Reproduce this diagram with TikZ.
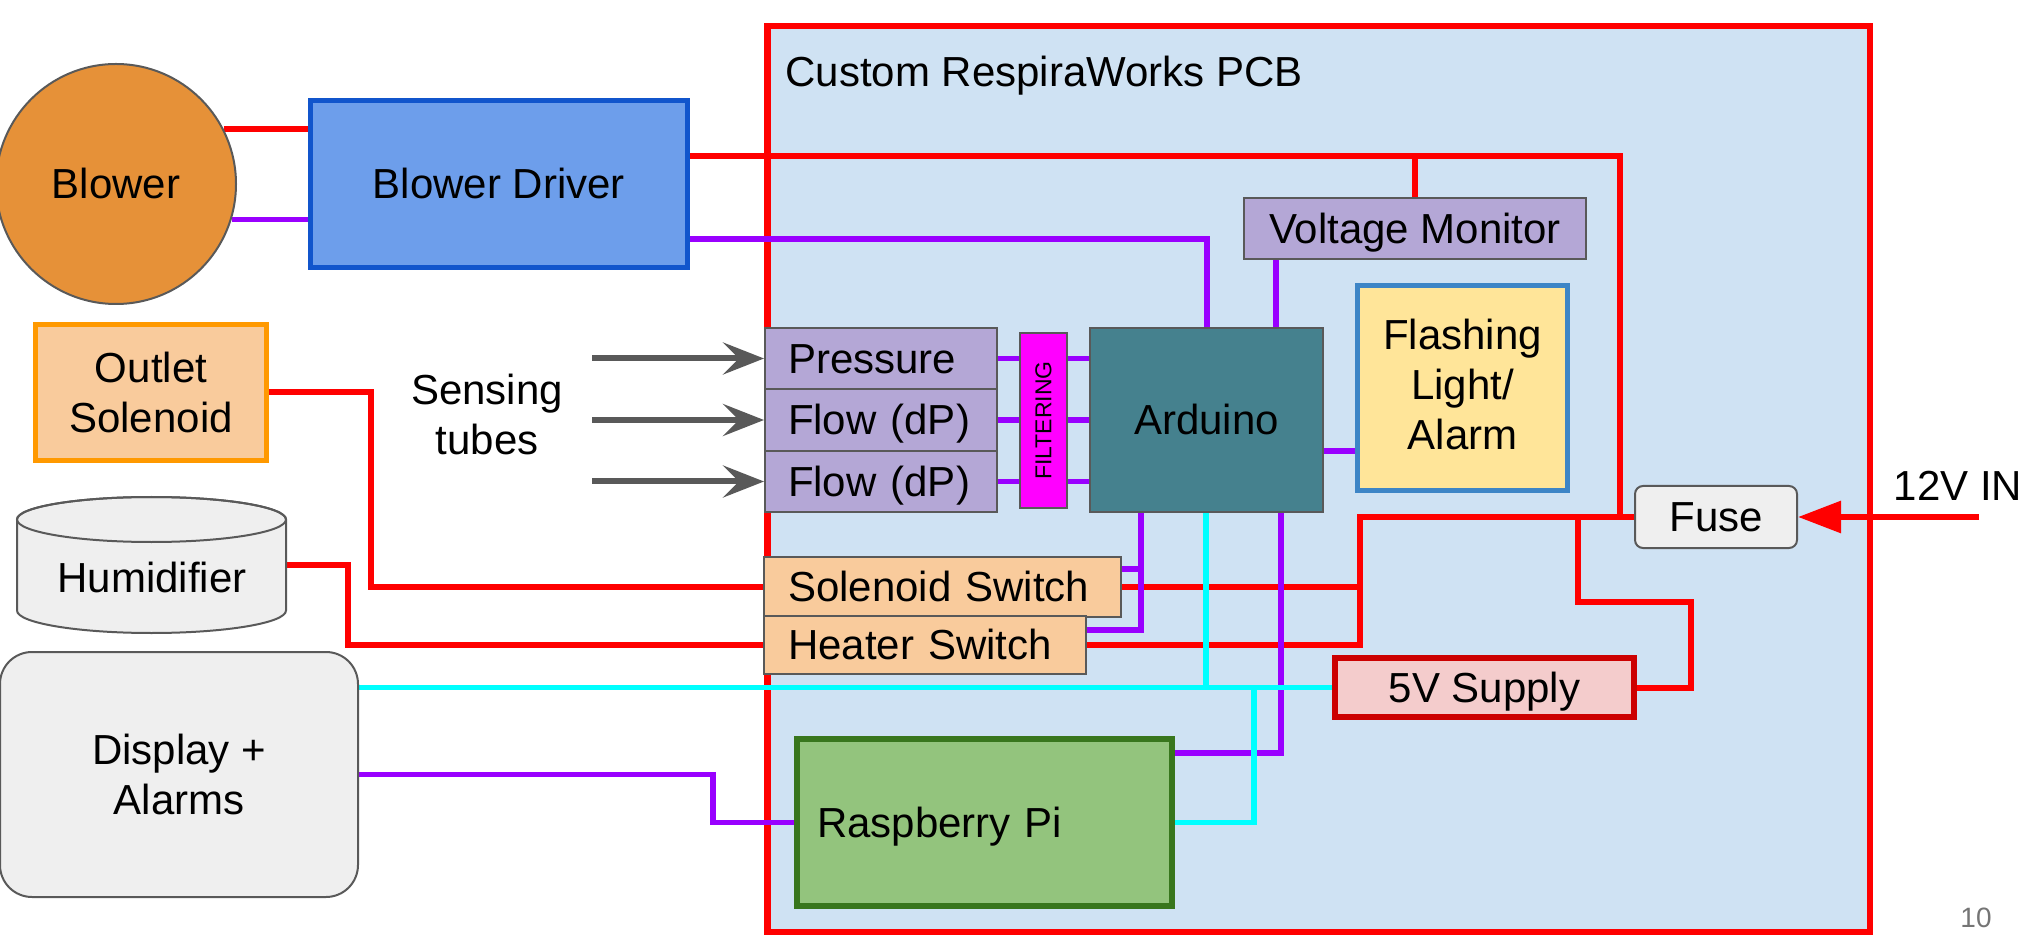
\documentclass[tikz,border=0pt]{standalone}
\usepackage{fontspec}
\setmainfont{Liberation Sans}
\usetikzlibrary{arrows.meta}
\definecolor{pcbf}{HTML}{CFE2F3}
\definecolor{gline}{HTML}{595959}
\definecolor{blowc}{HTML}{E69138}
\definecolor{drvf}{HTML}{6D9EEB}
\definecolor{drvb}{HTML}{1155CC}
\definecolor{outf}{HTML}{F9CB9C}
\definecolor{outb}{HTML}{FF9900}
\definecolor{lgray}{HTML}{EFEFEF}
\definecolor{lav}{HTML}{B4A7D6}
\definecolor{mag}{HTML}{FF00FF}
\definecolor{ardc}{HTML}{45818E}
\definecolor{flf}{HTML}{FFE599}
\definecolor{flb}{HTML}{3D85C6}
\definecolor{supf}{HTML}{F4CCCC}
\definecolor{supb}{HTML}{CC0000}
\definecolor{rpif}{HTML}{93C47D}
\definecolor{rpib}{HTML}{38761D}
\definecolor{purp}{HTML}{9900FF}
\definecolor{cyn}{HTML}{00FFFF}
\definecolor{rd}{HTML}{FF0000}
\definecolor{pgnum}{HTML}{757575}
\pgfdeclarelayer{back}
\pgfdeclarelayer{lines}
\pgfsetlayers{back,lines,main}
\newcommand\fs{\fontsize{21}{25}\selectfont}
\begin{document}
\begin{tikzpicture}[x=0.5pt,y=-0.5pt,
  box/.style={draw=gline, line width=1pt, inner sep=0pt, font=\fs},
  sl/.style={text height=19pt, text depth=4.45pt},
  lbox/.style={box, sl, align=left},
  rw/.style={draw=rd, line width=3pt},
  pw/.style={draw=purp, line width=2.8pt},
  cw/.style={draw=cyn, line width=2.8pt},
  arr/.style={draw=gline, line width=3pt, -{Stealth[length=20.5pt,width=16pt,inset=8pt]}}]
\useasboundingbox (0,0) rectangle (2038,951);

% PCB
\begin{pgfonlayer}{back}
\node[draw=rd, fill=pcbf, line width=3.25pt, minimum width=551.25pt, minimum height=452.75pt, inner sep=0pt] (pcb) at (1318.5,479) {};
\end{pgfonlayer}
\node[font=\fs, sl, anchor=west, inner sep=0pt] (title) at (785,72) {Custom RespiraWorks PCB};

% outside blocks
\node[circle, draw=gline, line width=1pt, fill=blowc, minimum size=120pt, inner sep=0pt, font=\fs, sl] (blower) at (116,184) {Blower};
\node[box, sl, draw=drvb, fill=drvf, line width=2.5pt, minimum width=188.5pt, minimum height=83.5pt] (driver) at (499,184) {Blower Driver};
\node[box, draw=outb, fill=outf, line width=2.5pt, align=center, minimum width=115.5pt, minimum height=68pt] (outlet) at (151,392.5) {Outlet\\Solenoid};

\draw[draw=gline, line width=1pt, fill=lgray] (17,519.5) -- (17,610.5)
  arc[start angle=180, end angle=360, x radius=67.25pt, y radius=11.25pt]
  -- (286,519.5)
  arc[start angle=0, end angle=180, x radius=67.25pt, y radius=11.25pt] -- cycle;
\draw[draw=gline, line width=1pt] (151.5,519.5) ellipse[x radius=67.25pt, y radius=11.25pt];
\node[font=\fs, sl, inner sep=0pt] (hum) at (152,578) {Humidifier};
\coordinate (humR) at (286,565);

\node[box, fill=lgray, rounded corners=16pt, align=center, minimum width=179pt, minimum height=122.5pt] (disp) at (179,774.5) {Display +\\Alarms};
\node[font=\fs, align=center, inner sep=0pt] (sens) at (487,414.5) {Sensing\\tubes};

% PCB blocks
\node[lbox, fill=lav, text width=93pt, inner xsep=11.5pt, minimum height=30.5pt] (pres) at (881,358.5) {Pressure};
\node[lbox, fill=lav, text width=93pt, inner xsep=11.5pt, minimum height=31pt] (flowa) at (881,420) {Flow (dP)};
\node[lbox, fill=lav, text width=93pt, inner xsep=11.5pt, minimum height=30.5pt] (flowb) at (881,481.5) {Flow (dP)};
\node[box, fill=mag, minimum width=23.5pt, minimum height=87.5pt] (filt) at (1043.5,420.5) {};
\node[rotate=90, inner sep=0pt, font=\fontsize{11.5}{13}\selectfont] (filtlbl) at (filt.center) {FILTERING};
\node[box, sl, fill=ardc, minimum width=116.5pt, minimum height=92pt] (ard) at (1206.5,420) {Arduino};
\node[box, sl, fill=lav, minimum width=171pt, minimum height=30.5pt] (vm) at (1415,228.5) {Voltage Monitor};
\node[box, draw=flb, fill=flf, line width=2.5pt, align=center, minimum width=105pt, minimum height=102.5pt] (flash) at (1462.5,388) {Flashing\\Light/\\Alarm\rule[-4pt]{0pt}{4pt}};
\node[box, sl, fill=lgray, rounded corners=4pt, minimum width=81pt, minimum height=31pt] (fuse) at (1716,517) {Fuse};
\node[box, sl, draw=supb, fill=supf, line width=3pt, minimum width=149.5pt, minimum height=29.5pt] (sup) at (1484.5,687.5) {5V Supply};
\node[lbox, fill=outf, text width=154.5pt, inner xsep=12pt, minimum height=30pt] (sol) at (942.5,587) {Solenoid Switch};
\node[lbox, fill=outf, text width=137pt, inner xsep=12pt, minimum height=29pt] (heater) at (925,645) {Heater Switch};
\node[lbox, draw=rpib, fill=rpif, line width=3pt, text width=167.5pt, inner xsep=10pt, minimum height=83.5pt] (rpi) at (984.5,822.5) {Raspberry Pi};
\node[font=\fs, sl, inner sep=0pt] (vinl) at (1958,485.5) {12V IN};
\node[font=\fontsize{14}{16}\selectfont, text=pgnum, inner sep=0pt] (pg) at (1976,918) {10};

% connectors
\begin{pgfonlayer}{lines}
% red
\draw[rw] (blower.27.3) -- (blower.27.3 -| driver.west);
\coordinate (rTopR) at (1620,156);
\draw[rw] (driver.east |- rTopR) -- (rTopR) -- (rTopR |- fuse.west);
\draw[rw] (vm.north |- rTopR) -- (vm.north);
\coordinate (rJ) at (1360,517);
\draw[rw] (fuse.west) -- (fuse.west -| rJ) -- (rJ |- heater.east) -- (heater.east);
\draw[rw] (sol.east) -- (sol.east -| rJ);
\coordinate (r5a) at (1578,602);
\coordinate (r5b) at (1691,602);
\draw[rw] (r5a |- fuse.west) -- (r5a) -- (r5b) -- (r5b |- sup.east) -- (sup.east);
\coordinate (vin) at (1979,517);
\draw[rw, -{Triangle[length=21.5pt,width=15.5pt]}] (vin) -- (fuse.east);
\coordinate (ro) at (371,392.5);
\draw[rw] (outlet.east) -- (ro) -- (ro |- sol.west) -- (sol.west);
\coordinate (rh) at (348,565);
\draw[rw] (humR) -- (rh) -- (rh |- heater.west) -- (heater.west);
% purple
\draw[pw] (blower.-17.5) -- (blower.-17.5 -| driver.west);
\coordinate (pA) at (1207,239);
\draw[pw] (driver.east |- pA) -- (pA) -- (pA |- ard.north);
\coordinate (pV) at (1276,300);
\draw[pw] (pV |- vm.south) -- (pV |- ard.north);
\foreach \s in {pres,flowa,flowb} {
  \draw[pw] (\s.east) -- (\s.east -| filt.west);
  \draw[pw] (\s.east -| filt.east) -- (\s.east -| ard.west);
}
\coordinate (pF) at (1340,451);
\draw[pw] (pF -| ard.east) -- (pF -| flash.west);
\coordinate (pS) at (1141,630);
\draw[pw] (pS |- ard.south) -- (pS) -- (pS -| heater.east);
\coordinate (pS2) at (1141,569);
\draw[pw] (pS2) -- (pS2 -| sol.east);
\coordinate (pR) at (1281,753);
\draw[pw] (pR |- ard.south) -- (pR) -- (pR -| rpi.east);
\coordinate (pD) at (713,774.5);
\draw[pw] (disp.east) -- (pD) -- (pD |- rpi.west) -- (rpi.west);
% cyan
\coordinate (cA) at (1206,687.5);
\draw[cw] (cA |- ard.south) -- (cA);
\draw[cw] (disp.east |- sup.west) -- (sup.west);
\coordinate (cB) at (1254,687.5);
\draw[cw] (cB) -- (cB |- rpi.east) -- (rpi.east);
% sensing tubes
\coordinate (tt) at (592,400);
\foreach \s in {pres,flowa,flowb} {
  \draw[arr] (tt |- \s.west) -- (\s.west);
}
\end{pgfonlayer}
\end{tikzpicture}
\end{document}
